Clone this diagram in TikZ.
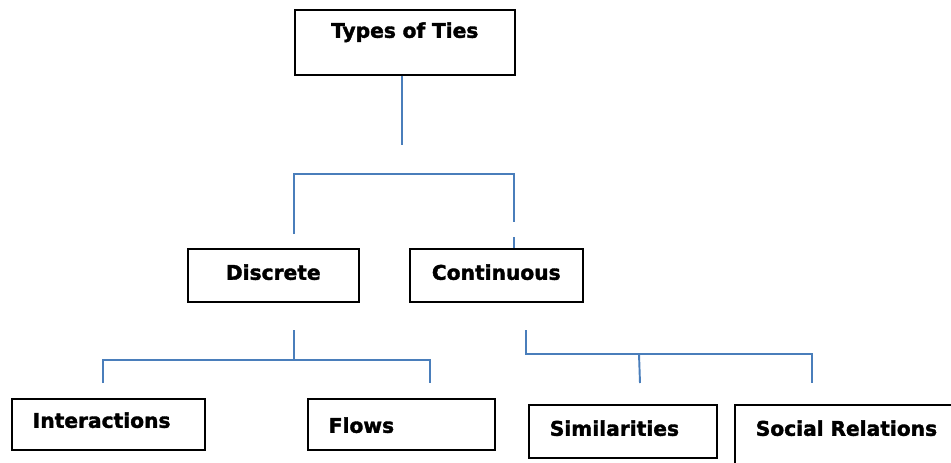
\documentclass[tikz,border=0pt]{standalone}
\usepackage{fontspec}
\setmainfont{DejaVu Sans}[BoldFeatures={FakeBold=1.8}]
\definecolor{tieblue}{RGB}{74,126,187}
\tikzset{
  tiebox/.style={draw=black, line width=0.9pt, inner ysep=0pt, font=\bfseries\fontsize{11.5}{13}\selectfont},
  midbox/.style={tiebox, inner xsep=0pt, text width=#1, align=center},
  leftbox/.style={tiebox, inner xsep=0.42cm, text width=#1, align=left},
  tie/.style={draw=tieblue, line width=1.1pt}
}
\begin{document}
\begin{tikzpicture}[x=0.02cm,y=-0.02cm]
		\useasboundingbox (0,0) rectangle (951,463);
		\node[midbox=4.4cm, text height=0.56cm, text depth=0.74cm, anchor=north west](ties) at (294,9) {Types of Ties};
		\node[midbox=3.42cm, text height=0.62cm, text depth=0.44cm, anchor=north west](discrete) at (187,248) {Discrete};
		\node[midbox=3.46cm, text height=0.62cm, text depth=0.44cm, anchor=north west](continuous) at (409,248) {Continuous};
		\node[leftbox=3.02cm, text height=0.58cm, text depth=0.44cm, anchor=north west](interactions) at (11,398) {Interactions};
		\node[leftbox=2.9cm, text height=0.68cm, text depth=0.34cm, anchor=north west](flows) at (307,398) {Flows};
		\node[leftbox=2.92cm, text height=0.62cm, text depth=0.44cm, anchor=north west](similarities) at (528,404) {Similarities};
		\node[leftbox=3.68cm, text height=0.62cm, text depth=0.7cm, anchor=north west](social) at (734,404) {Social Relations};
		% forks
		\coordinate (tiesend) at (402,145);
		\coordinate (forkl) at (294,234);
		\coordinate (forkr) at (514,222);
		\coordinate (forkrr) at (514,237);
		\coordinate (discend) at (294,330);
		\coordinate (contend) at (526,330);
		\coordinate (inter) at (103,383);
		\coordinate (flow) at (430,383);
		\coordinate (simil) at (640,383);
		\coordinate (socrel) at (812,383);
		\draw[tie] (ties.south -| tiesend) -- (tiesend);
		\draw[tie] (forkl) |- (514,174) -- (forkr);
		\draw[tie] (forkrr) -- (forkrr |- continuous.north);
		\draw[tie] (discend) -- (294,360);
		\draw[tie] (inter) |- (flow |- 0,360) -- (flow);
		\draw[tie] (contend) |- (socrel |- 0,354) -- (socrel);
		\draw[tie] (639,354) -- (simil);
	\end{tikzpicture}
\end{document}
